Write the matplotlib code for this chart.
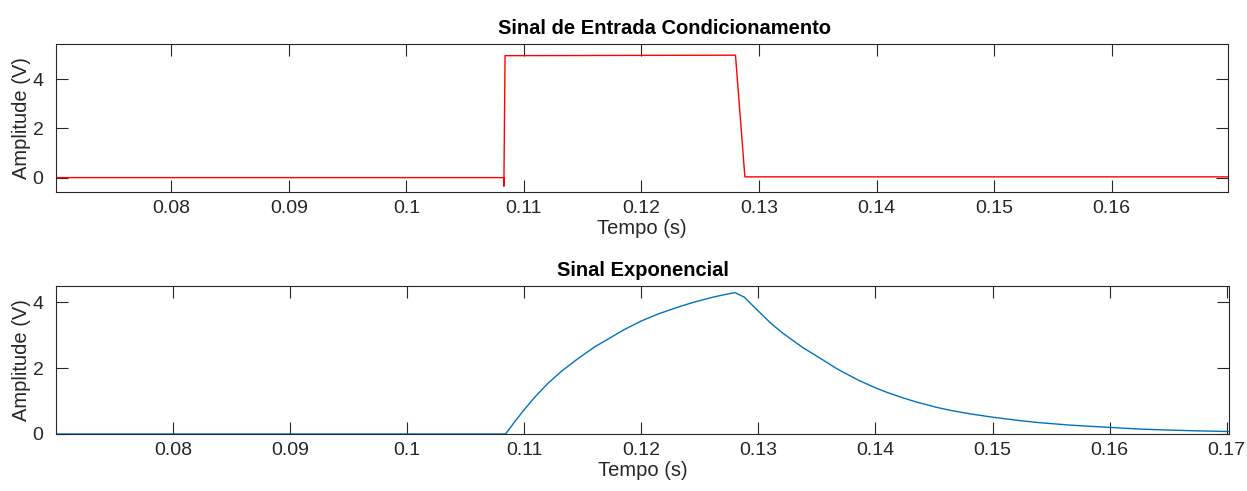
import numpy as np
import matplotlib
matplotlib.use("Agg")
import matplotlib.pyplot as plt

plt.rcParams['font.family'] = ['Liberation Sans', 'DejaVu Sans']

## Dados
# Sinal de entrada (condicionamento)
t_in = [0.0702, 0.1083, 0.1083, 0.1084, 0.1280, 0.1288, 0.1699]
v_in = [0.0, 0.0, -0.35, 4.96, 4.98, 0.03, 0.03]

# Sinal exponencial
t_exp = [0.0700, 0.1084, 0.1092, 0.1100, 0.1109, 0.1120, 0.1132, 0.1146,
         0.1160, 0.1185, 0.1200, 0.1215, 0.1233, 0.1245, 0.1261, 0.1270,
         0.1280, 0.1288, 0.1295, 0.1310, 0.1320, 0.1338, 0.1350, 0.1367,
         0.1385, 0.1400, 0.1410, 0.1424, 0.1435, 0.1452, 0.1465, 0.1481,
         0.1500, 0.1520, 0.1538, 0.1566, 0.1580, 0.1600, 0.1625, 0.1650,
         0.1675, 0.1702]
v_exp = [0.0, 0.0, 0.38, 0.74, 1.12, 1.53, 1.91, 2.29,
         2.64, 3.16, 3.43, 3.65, 3.87, 4.00, 4.15, 4.22,
         4.29, 4.15, 3.90, 3.38, 3.08, 2.62, 2.36, 1.98,
         1.64, 1.40, 1.26, 1.09, 0.97, 0.81, 0.71, 0.61,
         0.51, 0.42, 0.35, 0.27, 0.24, 0.20, 0.15, 0.12,
         0.095, 0.075]

ticks_top = [0.08, 0.09, 0.10, 0.11, 0.12, 0.13, 0.14, 0.15, 0.16]
labels_top = ['0.08', '0.09', '0.1', '0.11', '0.12', '0.13', '0.14', '0.15', '0.16']
ticks_bot = [0.08, 0.09, 0.10, 0.11, 0.12, 0.13, 0.14, 0.15, 0.16, 0.17]
labels_bot = ['0.08', '0.09', '0.1', '0.11', '0.12', '0.13', '0.14', '0.15', '0.16', '0.17']

cinza = '#262626'

def estilo(ax):
    for s in ax.spines.values():
        s.set_color(cinza)
        s.set_linewidth(0.8)
    ax.tick_params(direction='in', length=8.5, width=0.8, colors=cinza,
                   labelsize=14, top=True, right=True, labelcolor=cinza)
    ax.tick_params(axis='x', pad=6)
    ax.tick_params(axis='y', pad=9)

fig = plt.figure(figsize=(12.47, 4.91), dpi=100)

# Subplot 1
ax1 = fig.add_axes([0.0449, 0.609, 0.9399, 0.3014])
ax1.plot(t_in, v_in, color='#FF0000', lw=1.0)
ax1.set_xlim(0.0702, 0.1699)
ax1.set_ylim(-0.585, 5.435)
ax1.set_xticks(ticks_top)
ax1.set_xticklabels(labels_top)
ax1.set_yticks([0, 2, 4])
estilo(ax1)
ax1.set_title('Sinal de Entrada Condicionamento', fontsize=14.5, fontweight='bold',
              color='black', pad=7, x=0.519)
ax1.set_xlabel('Tempo (s)', fontsize=14.5, color=cinza, labelpad=1)
ax1.set_ylabel('Amplitude (V)', fontsize=14.5, color=cinza, labelpad=1)

# Subplot 2
ax2 = fig.add_axes([0.0449, 0.1161, 0.9407, 0.3014])
ax2.plot(t_exp, v_exp, color='#0072BD', lw=1.0)
ax2.set_xlim(0.0700, 0.1702)
ax2.set_ylim(0, 4.49)
ax2.set_xticks(ticks_bot)
ax2.set_xticklabels(labels_bot)
ax2.set_yticks([0, 2, 4])
estilo(ax2)
ax2.set_title('Sinal Exponencial', fontsize=14.5, fontweight='bold',
              color='black', pad=7)
ax2.set_xlabel('Tempo (s)', fontsize=14.5, color=cinza, labelpad=1)
ax2.set_ylabel('Amplitude (V)', fontsize=14.5, color=cinza, labelpad=1)

fig.savefig('out.png', dpi=100)
